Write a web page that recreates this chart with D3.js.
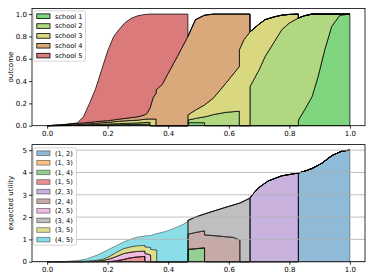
<!doctype html>
<html>
    <head>
        <title>Outcome and expected utility</title>
        <script src="https://d3js.org/d3.v7.min.js"></script>
        <style>
            body { margin: 0; background: #fff; }
            text {
                font-family: 'DejaVu Sans', sans-serif;
                font-size: 7px;
            }
            .legend_text { font-size: 6.6px; }
        </style>
    </head>
    <body>
        <svg height="280" id="chart" width="374"></svg>
        <script>
            // ---- top panel: outcome per school (stacked) ----
            const schoolNames = ["school 1", "school 2", "school 3", "school 4", "school 5"];
            const schoolColors = ["#7fd67f", "#b1d880", "#d9d881", "#d9a97b", "#da7a7a"];
            const xTop = [0, 0.05, 0.1, 0.12, 0.14, 0.16, 0.18, 0.2, 0.22, 0.24,
                0.26, 0.28, 0.3, 0.32, 0.33, 0.34, 0.34, 0.35, 0.36, 0.36,
                0.38, 0.4, 0.43, 0.465, 0.465, 0.49, 0.52, 0.52, 0.55, 0.59,
                0.635, 0.635, 0.65, 0.67, 0.67, 0.7, 0.72, 0.75, 0.775, 0.8,
                0.83, 0.83, 0.85, 0.875, 0.895, 0.917, 0.94, 0.967, 1.0];
            const school1 = [0, 0.001, 0.002, 0.003, 0.004, 0.005, 0.006, 0.007, 0.008, 0.009,
                0.01, 0.011, 0.012, 0.013, 0.014, 0.014, 0, 0, 0, 0,
                0, 0, 0, 0, 0.027, 0.027, 0.027, 0, 0, 0,
                0, 0, 0, 0, 0, 0, 0, 0, 0, 0,
                0, 0.05, 0.14, 0.26, 0.44, 0.68, 0.89, 0.99, 1.0];
            const school2 = [0, 0.001, 0.003, 0.004, 0.005, 0.006, 0.007, 0.008, 0.009, 0.01,
                0.011, 0.012, 0.013, 0.015, 0.016, 0.016, 0, 0, 0, 0,
                0, 0, 0, 0, 0.023, 0.038, 0.053, 0.078, 0.1, 0.12,
                0.13, 0, 0, 0, 0.35, 0.5, 0.62, 0.75, 0.86, 0.92,
                0.965, 0.915, 0.845, 0.74, 0.56, 0.32, 0.11, 0.01, 0];
            const school3 = [0, 0.002, 0.005, 0.007, 0.009, 0.011, 0.013, 0.015, 0.018, 0.021,
                0.023, 0.024, 0.025, 0.029, 0.03, 0.03, 0.06, 0.06, 0.06, 0,
                0, 0, 0, 0, 0.046, 0.075, 0.106, 0.108, 0.15, 0.26,
                0.4, 0.68, 0.77, 0.84, 0.49, 0.41, 0.33, 0.225, 0.13, 0.077,
                0.035, 0, 0, 0, 0, 0, 0, 0, 0];
            const school4 = [0, 0.004, 0.01, 0.011, 0.012, 0.014, 0.015, 0.015, 0.017, 0.02,
                0.022, 0.026, 0.03, 0.038, 0.05, 0.1, 0.1, 0.19, 0.23, 0.32,
                0.37, 0.47, 0.62, 0.8, 0.704, 0.81, 0.804, 0.804, 0.75, 0.62,
                0.47, 0.32, 0.23, 0.16, 0, 0, 0, 0, 0, 0,
                0, 0, 0, 0, 0, 0, 0, 0, 0];
            const school5 = [0, 0, 0.005, 0.055, 0.17, 0.294, 0.459, 0.625, 0.748, 0.81,
                0.864, 0.892, 0.905, 0.9, 0.888, 0.84, 0.84, 0.75, 0.71, 0.68,
                0.63, 0.53, 0.38, 0.2, 0, 0, 0, 0, 0, 0,
                0, 0, 0, 0, 0, 0, 0, 0, 0, 0,
                0, 0, 0, 0, 0, 0, 0, 0, 0];
            const schoolValues = [school1, school2, school3, school4, school5];

            // ---- bottom panel: expected utility per pair (stacked) ----
            const pairNames = ["(1, 2)", "(1, 3)", "(1, 4)", "(1, 5)", "(2, 3)",
                "(2, 4)", "(2, 5)", "(3, 4)", "(3, 5)", "(4, 5)"];
            const pairColors = d3.schemeCategory10.slice(0, 10);
            const xBottom = [0, 0.05, 0.1, 0.13, 0.164, 0.186, 0.208, 0.23, 0.252, 0.274,
                0.296, 0.323, 0.323, 0.342, 0.342, 0.362, 0.362, 0.384, 0.406, 0.428,
                0.45, 0.465, 0.465, 0.49, 0.52, 0.52, 0.55, 0.59, 0.615, 0.637,
                0.637, 0.655, 0.67, 0.67, 0.68, 0.697, 0.73, 0.775, 0.818, 0.83,
                0.83, 0.855, 0.875, 0.907, 0.94, 0.973, 1.0];
            const pair12 = [0, 0, 0, 0, 0, 0, 0, 0, 0, 0,
                0, 0, 0, 0, 0, 0, 0, 0, 0, 0,
                0, 0, 0, 0, 0, 0, 0, 0, 0, 0,
                0, 0, 0, 0, 0, 0, 0, 0, 0, 0,
                3.97, 4.08, 4.18, 4.41, 4.75, 4.96, 5.0];
            const pair13 = [0, 0, 0, 0, 0, 0, 0, 0, 0, 0,
                0, 0, 0, 0, 0, 0, 0, 0, 0, 0,
                0, 0, 0, 0, 0, 0, 0, 0, 0, 0,
                0, 0, 0, 0, 0, 0, 0, 0, 0, 0,
                0, 0, 0, 0, 0, 0, 0];
            const pair14 = [0, 0, 0, 0, 0, 0, 0, 0, 0, 0,
                0, 0, 0, 0, 0, 0, 0, 0, 0, 0,
                0, 0, 0.55, 0.58, 0.62, 0, 0, 0, 0, 0,
                0, 0, 0, 0, 0, 0, 0, 0, 0, 0,
                0, 0, 0, 0, 0, 0, 0];
            const pair15 = [0, 0, 0.002, 0.003, 0.005, 0.007, 0.01, 0.04, 0.1, 0.17,
                0.21, 0.24, 0, 0, 0, 0, 0, 0, 0, 0,
                0, 0, 0, 0, 0, 0, 0, 0, 0, 0,
                0, 0, 0, 0, 0, 0, 0, 0, 0, 0,
                0, 0, 0, 0, 0, 0, 0];
            const pair23 = [0, 0, 0, 0, 0, 0, 0, 0, 0, 0,
                0, 0, 0, 0, 0, 0, 0, 0, 0, 0,
                0, 0, 0, 0, 0, 0, 0, 0, 0, 0,
                0, 0, 0, 2.85, 3.03, 3.3, 3.62, 3.85, 3.95, 3.97,
                0, 0, 0, 0, 0, 0, 0];
            const pair24 = [0, 0, 0, 0, 0, 0, 0, 0, 0, 0,
                0, 0, 0, 0, 0, 0, 0, 0, 0, 0,
                0, 0, 0.68, 0.73, 0.76, 1.2, 1.17, 1.12, 1.09, 0.97,
                0, 0, 0, 0, 0, 0, 0, 0, 0, 0,
                0, 0, 0, 0, 0, 0, 0];
            const pair25 = [0, 0.001, 0.002, 0.005, 0.015, 0.053, 0.12, 0.2, 0.26, 0.25,
                0.25, 0.23, 0.37, 0.3, 0, 0, 0, 0, 0, 0,
                0, 0, 0, 0, 0, 0, 0, 0, 0, 0,
                0, 0, 0, 0, 0, 0, 0, 0, 0, 0,
                0, 0, 0, 0, 0, 0, 0];
            const pair34 = [0, 0, 0, 0, 0, 0, 0, 0, 0, 0,
                0, 0, 0, 0, 0, 0, 0, 0, 0, 0,
                0, 0, 0.62, 0.69, 0.76, 0.94, 1.1, 1.32, 1.45, 1.66,
                2.63, 2.75, 2.85, 0, 0, 0, 0, 0, 0, 0,
                0, 0, 0, 0, 0, 0, 0];
            const pair35 = [0, 0.001, 0.006, 0.012, 0.04, 0.06, 0.12, 0.19, 0.22, 0.24,
                0.25, 0.26, 0.29, 0.34, 0.55, 0.52, 0, 0, 0, 0,
                0, 0, 0, 0, 0, 0, 0, 0, 0, 0,
                0, 0, 0, 0, 0, 0, 0, 0, 0, 0,
                0, 0, 0, 0, 0, 0, 0];
            const pair45 = [0, 0.003, 0.04, 0.1, 0.23, 0.31, 0.33, 0.3, 0.3, 0.34,
                0.39, 0.42, 0.49, 0.54, 0.63, 0.74, 1.26, 1.33, 1.42, 1.55,
                1.68, 1.8, 0, 0, 0, 0, 0, 0, 0, 0,
                0, 0, 0, 0, 0, 0, 0, 0, 0, 0,
                0, 0, 0, 0, 0, 0, 0];
            const pairValues = [pair12, pair13, pair14, pair15, pair23, pair24, pair25, pair34, pair35, pair45];

            const xTicks = [0, 0.2, 0.4, 0.6, 0.8, 1.0];
            const outcomeTicks = [0, 0.2, 0.4, 0.6, 0.8, 1.0];
            const utilityTicks = [0, 1, 2, 3, 4, 5];

            const chart = d3.select("#chart");
            const left = 32, right = 365;

            function buildRows(xs, names, values) {
                return xs.map((x, i) => {
                    const row = { x: x };
                    names.forEach((n, k) => row[n] = values[k][i]);
                    return row;
                });
            }

            function drawPanel(opts) {
                const g = chart.append("g");
                const scaleX = d3.scaleLinear().domain([-0.05, 1.05]).range([left, right]);
                const scaleY = d3.scaleLinear().domain([0, opts.yMax]).range([opts.bottom, opts.top]);

                const rows = buildRows(opts.xs, opts.names, opts.values);
                const series = d3.stack().keys(opts.names)(rows);
                const area = d3.area()
                    .x(d => scaleX(d.data.x))
                    .y0(d => scaleY(d[0]))
                    .y1(d => scaleY(d[1]));

                g.append("g")
                    .selectAll("path")
                    .data(series)
                    .enter()
                    .append("path")
                    .attr("d", area)
                    .style("fill", (d, i) => opts.colors[i])
                    .style("fill-opacity", opts.alpha)
                    .style("stroke", "#000")
                    .style("stroke-opacity", opts.alpha)
                    .style("stroke-width", 0.75)
                    .style("stroke-linejoin", "round");

                if (opts.grid) {
                    g.append("g")
                        .selectAll("line")
                        .data(opts.yTicks)
                        .enter()
                        .append("line")
                        .attr("x1", left).attr("x2", right)
                        .attr("y1", d => scaleY(d)).attr("y2", d => scaleY(d))
                        .style("stroke", "#b0b0b0")
                        .style("stroke-width", 0.8);
                }

                const xAxis = d3.axisBottom(scaleX).tickValues(xTicks)
                    .tickFormat(d3.format(".1f")).tickSize(3).tickPadding(2);
                const yAxis = d3.axisLeft(scaleY).tickValues(opts.yTicks)
                    .tickFormat(opts.yFormat).tickSize(3).tickPadding(2);

                const gx = g.append("g")
                    .attr("transform", "translate(0," + opts.bottom + ")")
                    .call(xAxis);
                const gy = g.append("g")
                    .attr("transform", "translate(" + left + ",0)")
                    .call(yAxis);
                [gx, gy].forEach(a => {
                    a.select(".domain").remove();
                    a.selectAll("line").style("stroke", "#000").style("stroke-width", 0.8);
                    a.selectAll("text").attr("font-family", null).attr("font-size", null).style("fill", "#000");
                });

                g.append("rect")
                    .attr("x", left).attr("y", opts.top)
                    .attr("width", right - left).attr("height", opts.bottom - opts.top)
                    .style("fill", "none")
                    .style("stroke", "#000")
                    .style("stroke-width", 0.8);

                g.append("text")
                    .attr("transform", "translate(13," + (opts.top + opts.bottom) / 2 + ")rotate(-90)")
                    .style("text-anchor", "middle")
                    .text(opts.label);

                // legend
                const lg = g.append("g");
                const rowH = opts.legendStep;
                const firstY = opts.legendTop + 5.4;
                lg.append("rect")
                    .attr("x", 33.5).attr("y", opts.legendTop)
                    .attr("width", opts.legendWidth)
                    .attr("height", (opts.names.length - 1) * rowH + 11)
                    .attr("rx", 1.5)
                    .style("fill", "#fff").style("fill-opacity", 0.8)
                    .style("stroke", "#cccccc").style("stroke-width", 0.8);
                const entries = lg.selectAll("g.entry")
                    .data(opts.names)
                    .enter()
                    .append("g")
                    .attr("class", "entry");
                entries.append("rect")
                    .attr("x", 36.8)
                    .attr("y", (d, i) => firstY + i * rowH - 2.3)
                    .attr("width", 13.2)
                    .attr("height", 4.6)
                    .style("fill", (d, i) => opts.colors[i])
                    .style("fill-opacity", opts.alpha)
                    .style("stroke", "#000")
                    .style("stroke-opacity", opts.alpha)
                    .style("stroke-width", 0.8);
                entries.append("text")
                    .attr("class", "legend_text")
                    .attr("x", 55)
                    .attr("y", (d, i) => firstY + i * rowH + 2.4)
                    .text(d => d);
            }

            drawPanel({
                top: 8.5, bottom: 125.7, yMax: 1.05,
                xs: xTop, names: schoolNames, values: schoolValues, colors: schoolColors,
                alpha: 1, grid: false, yTicks: outcomeTicks, yFormat: d3.format(".1f"),
                label: "outcome", legendTop: 10.8, legendStep: 9.85, legendWidth: 52
            });

            drawPanel({
                top: 144.6, bottom: 261.7, yMax: 5.25,
                xs: xBottom, names: pairNames, values: pairValues, colors: pairColors,
                alpha: 0.5, grid: true, yTicks: utilityTicks, yFormat: d3.format("d"),
                label: "expected utility", legendTop: 147.8, legendStep: 9.6, legendWidth: 43
            });
        </script>
    </body>
</html>
